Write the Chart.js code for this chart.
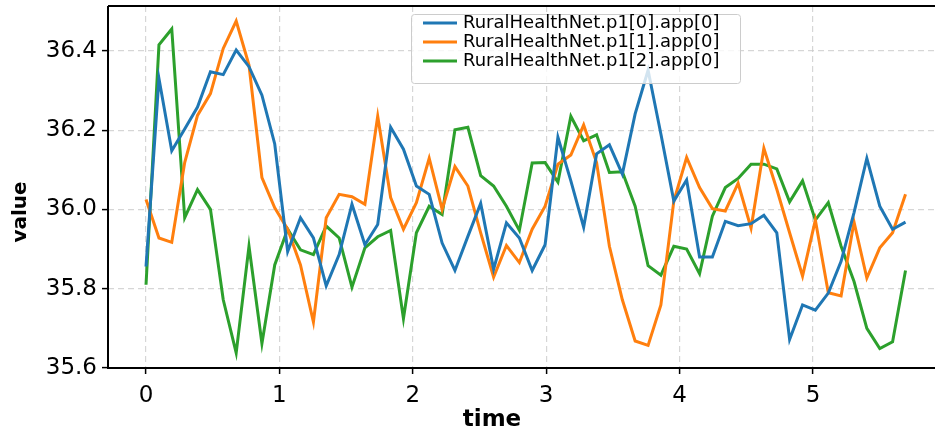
<!DOCTYPE html>
<html>
<head>
<meta charset="utf-8">
<script src="https://cdn.jsdelivr.net/npm/chart.js@4.4.1/dist/chart.umd.min.js"></script>
<style>
  html, body { margin: 0; padding: 0; background: #fff; }
</style>
</head>
<body>
<canvas id="chart" width="935" height="429"></canvas>
<script>
// time axis (s)
const times = [0, 0.097, 0.193, 0.290, 0.386, 0.483, 0.579, 0.676, 0.772, 0.869,
  0.965, 1.062, 1.158, 1.255, 1.351, 1.448, 1.544, 1.641, 1.737, 1.834,
  1.930, 2.027, 2.123, 2.220, 2.316, 2.413, 2.509, 2.606, 2.702, 2.799,
  2.895, 2.992, 3.088, 3.185, 3.281, 3.378, 3.474, 3.571, 3.667, 3.764,
  3.860, 3.957, 4.053, 4.150, 4.246, 4.343, 4.439, 4.536, 4.632, 4.729,
  4.825, 4.922, 5.018, 5.115, 5.211, 5.308, 5.404, 5.501, 5.597, 5.694];

const app0 = [35.856, 36.330, 36.148, 36.203, 36.258, 36.347, 36.340, 36.402, 36.360, 36.288,
  36.165, 35.894, 35.979, 35.928, 35.807, 35.886, 36.013, 35.911, 35.962, 36.207,
  36.152, 36.059, 36.038, 35.915, 35.846, 35.932, 36.015, 35.849, 35.966, 35.928,
  35.846, 35.911, 36.182, 36.072, 35.955, 36.140, 36.163, 36.089, 36.241, 36.351,
  36.190, 36.021, 36.074, 35.880, 35.880, 35.970, 35.959, 35.964, 35.985, 35.941,
  35.672, 35.759, 35.746, 35.789, 35.869, 35.992, 36.129, 36.008, 35.950, 35.968];

const app1 = [36.025, 35.928, 35.917, 36.118, 36.237, 36.292, 36.406, 36.475, 36.364, 36.080,
  36.004, 35.950, 35.860, 35.716, 35.979, 36.038, 36.032, 36.013, 36.235, 36.030,
  35.950, 36.017, 36.129, 36.000, 36.108, 36.059, 35.941, 35.829, 35.909, 35.866,
  35.950, 36.008, 36.114, 36.137, 36.213, 36.118, 35.907, 35.772, 35.668, 35.657,
  35.759, 36.021, 36.131, 36.055, 36.002, 35.996, 36.066, 35.953, 36.154, 36.051,
  35.941, 35.832, 35.973, 35.790, 35.782, 35.968, 35.827, 35.903, 35.941, 36.038];

const app2 = [35.810, 36.415, 36.455, 35.979, 36.050, 36.000, 35.772, 35.638, 35.907, 35.662,
  35.860, 35.950, 35.898, 35.886, 35.958, 35.928, 35.804, 35.903, 35.931, 35.947,
  35.725, 35.941, 36.008, 35.987, 36.201, 36.207, 36.085, 36.059, 36.008, 35.947,
  36.117, 36.118, 36.069, 36.235, 36.173, 36.188, 36.093, 36.095, 36.008, 35.858,
  35.834, 35.907, 35.900, 35.838, 35.983, 36.055, 36.078, 36.114, 36.114, 36.102,
  36.019, 36.072, 35.973, 36.017, 35.907, 35.818, 35.700, 35.649, 35.666, 35.846];

const seriesNames = ['RuralHealthNet.p1[0].app[0]', 'RuralHealthNet.p1[1].app[0]', 'RuralHealthNet.p1[2].app[0]'];
const seriesColors = ['#1f77b4', '#ff7f0e', '#2ca02c'];
const xTicks = [0, 1, 2, 3, 4, 5];
const yTicks = [35.6, 35.8, 36.0, 36.2, 36.4];

const FONT = "'DejaVu Sans', sans-serif";

function toPoints(values) {
  return values.map((v, i) => ({ x: times[i], y: v }));
}

// spines, axis titles and the legend box inside the plot
const framePlugin = {
  id: 'frame',
  afterDraw(chart) {
    const ctx = chart.ctx;
    const a = chart.chartArea;
    ctx.save();
    ctx.strokeStyle = '#000';
    ctx.lineWidth = 2;
    ctx.beginPath();
    ctx.moveTo(a.left, a.top);
    ctx.lineTo(a.right, a.top);
    ctx.moveTo(a.left, a.top);
    ctx.lineTo(a.left, a.bottom);
    ctx.lineTo(a.right, a.bottom);
    ctx.stroke();

    // legend
    const lx = 411, ly = 14, lw = 329, lh = 69;
    ctx.fillStyle = 'rgba(255,255,255,0.8)';
    ctx.strokeStyle = '#cccccc';
    ctx.lineWidth = 1;
    ctx.beginPath();
    ctx.roundRect(lx + 0.5, ly + 0.5, lw, lh, 3);
    ctx.fill();
    ctx.stroke();
    ctx.font = '18px ' + FONT;
    ctx.textBaseline = 'middle';
    ctx.textAlign = 'left';
    chart.data.datasets.forEach((ds, i) => {
      const y = 23 + i * 19;
      ctx.strokeStyle = ds.borderColor;
      ctx.lineWidth = 3;
      ctx.beginPath();
      ctx.moveTo(423, y);
      ctx.lineTo(457, y);
      ctx.stroke();
      ctx.fillStyle = '#000';
      ctx.fillText(ds.label, 463, y);
    });

    // axis titles
    ctx.fillStyle = '#000';
    ctx.font = 'bold 23px ' + FONT;
    ctx.textAlign = 'center';
    ctx.textBaseline = 'alphabetic';
    ctx.fillText('time', 492, 426);
    ctx.translate(26, 212);
    ctx.rotate(-Math.PI / 2);
    ctx.font = 'bold 20px ' + FONT;
    ctx.fillText('value', 0, 0);
    ctx.restore();
  }
};

const ctx = document.getElementById('chart').getContext('2d');
const chart = new Chart(ctx, {
  type: 'line',
  data: {
    datasets: seriesNames.map((name, i) => ({
      label: name,
      data: toPoints([app0, app1, app2][i]),
      borderColor: seriesColors[i],
      backgroundColor: seriesColors[i],
      borderWidth: 3,
      pointRadius: 0,
      tension: 0,
      fill: false
    }))
  },
  options: {
    responsive: false,
    animation: false,
    layout: { padding: { top: 6, right: 0, left: 0, bottom: 0 } },
    plugins: {
      legend: { display: false },
      tooltip: { enabled: false }
    },
    scales: {
      x: {
        type: 'linear',
        min: -0.285,
        max: 5.915,
        afterBuildTicks: s => { s.ticks = xTicks.map(v => ({ value: v })); },
        afterFit: s => { s.height = 61; s.paddingLeft = 0; s.paddingRight = 0; },
        ticks: {
          color: '#000',
          font: { family: FONT, size: 23 },
          padding: 8,
          maxRotation: 0,
          callback: v => String(v)
        },
        grid: {
          color: 'rgba(200,200,200,0.75)',
          lineWidth: 1.2,
          tickColor: '#000',
          tickWidth: 1.5,
          tickLength: 6
        },
        border: { display: false, dash: [6, 4] }
      },
      y: {
        type: 'linear',
        min: 35.6,
        max: 36.513,
        afterBuildTicks: s => { s.ticks = yTicks.map(v => ({ value: v })); },
        afterFit: s => { s.width = 108; s.paddingTop = 0; s.paddingBottom = 0; },
        ticks: {
          color: '#000',
          font: { family: FONT, size: 23 },
          padding: 5,
          callback: v => v.toFixed(1)
        },
        grid: {
          color: 'rgba(200,200,200,0.75)',
          lineWidth: 1.2,
          tickColor: '#000',
          tickWidth: 1.5,
          tickLength: 6
        },
        border: { display: false, dash: [6, 4] }
      }
    }
  },
  plugins: [framePlugin]
});
</script>
</body>
</html>
